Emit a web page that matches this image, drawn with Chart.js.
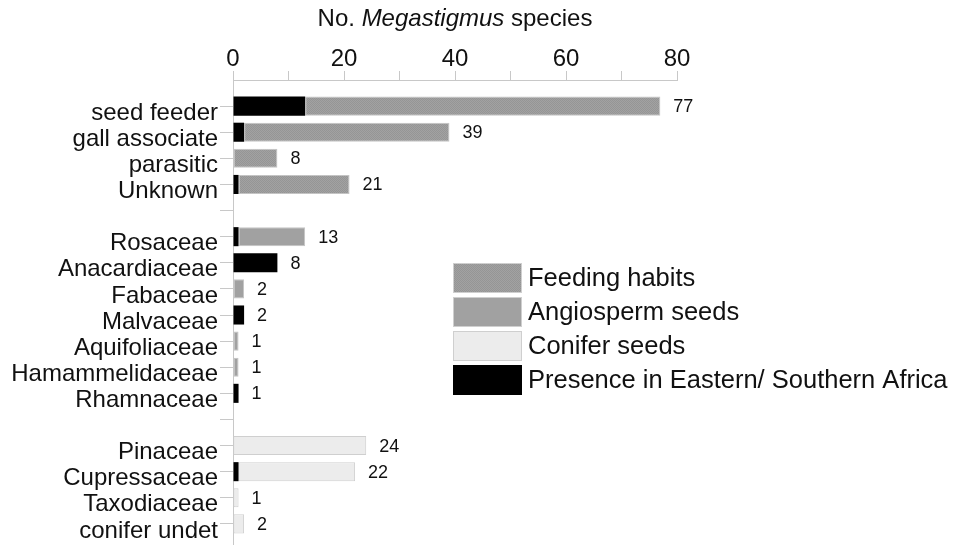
<!DOCTYPE html>
<html>
<head>
<meta charset="utf-8">
<script src="https://cdn.jsdelivr.net/npm/chart.js"></script>
<style>
  html, body { margin: 0; padding: 0; background: #fff; overflow: hidden; }
  #wrap { width: 976px; height: 550px; }
</style>
</head>
<body>
<div id="wrap"><canvas id="megChart"></canvas></div>
<script>
    const FONT = '"Liberation Sans", Arial, sans-serif';

    // rows, top to bottom ('' = spacer row between groups)
    const categories = ['seed feeder', 'gall associate', 'parasitic', 'Unknown', '',
        'Rosaceae', 'Anacardiaceae', 'Fabaceae', 'Malvaceae', 'Aquifoliaceae', 'Hamammelidaceae', 'Rhamnaceae', '',
        'Pinaceae', 'Cupressaceae', 'Taxodiaceae', 'conifer undet'];

    // species also found in Eastern / Southern Africa (black part, drawn first)
    const africa     = [13, 2, 0, 1, null, 1, 8, 0, 2, 0, 0, 1, null, 0, 1, 0, 0];
    // remaining species of each bar
    const feeding    = [64, 37, 8, 20, null, null, null, null, null, null, null, null, null, null, null, null, null];
    const angiosperm = [null, null, null, null, null, 12, 0, 2, 0, 1, 1, 0, null, null, null, null, null];
    const conifer    = [null, null, null, null, null, null, null, null, null, null, null, null, null, 24, 21, 1, 2];

    const xLabels = [0, 20, 40, 60, 80];

    // stippled grey for the feeding-habit bars
    function stipple() {
        const c = document.createElement('canvas');
        c.width = 2; c.height = 2;
        const g = c.getContext('2d');
        g.fillStyle = '#a2a2a2'; g.fillRect(0, 0, 2, 2);
        g.fillStyle = '#959595'; g.fillRect(0, 0, 1, 1); g.fillRect(1, 1, 1, 1);
        return g.createPattern(c, 'repeat');
    }
    const feedFill = stipple();

    const legendItems = [
        { text: 'Feeding habits', fill: feedFill, border: '#cfcfcf' },
        { text: 'Angiosperm seeds', fill: '#a1a1a1', border: '#cfcfcf' },
        { text: 'Conifer seeds', fill: '#ececec', border: '#cfcfcf' },
        { text: 'Presence in Eastern/ Southern Africa', fill: '#000000', border: '#000000' }
    ];

    const sideTitle = {
        id: 'sideTitle',
        afterDraw(chart) {
            const ctx = chart.ctx;
            const parts = [['No. ', 'normal'], ['Megastigmus', 'italic'], [' species', 'normal']];
            ctx.save();
            ctx.fillStyle = '#111';
            ctx.textBaseline = 'alphabetic';
            let w = 0;
            parts.forEach(p => { ctx.font = p[1] + ' 24px ' + FONT; w += ctx.measureText(p[0]).width; });
            let x = (chart.chartArea.left + chart.chartArea.right) / 2 - w / 2;
            parts.forEach(p => {
                ctx.font = p[1] + ' 24px ' + FONT;
                ctx.fillText(p[0], x, 26);
                x += ctx.measureText(p[0]).width;
            });
            ctx.restore();
        }
    };

    const totals = {
        id: 'totals',
        afterDatasetsDraw(chart) {
            const ctx = chart.ctx;
            const xs = chart.scales.x, ys = chart.scales.y;
            ctx.save();
            ctx.font = '18px ' + FONT;
            ctx.fillStyle = '#111';
            ctx.textAlign = 'left';
            ctx.textBaseline = 'middle';
            categories.forEach((c, i) => {
                if (!c) return;
                const t = [africa, feeding, angiosperm, conifer].reduce((s, a) => s + (a[i] || 0), 0);
                ctx.fillText(String(t), xs.getPixelForValue(t) + 13, ys.getPixelForValue(i + 1) + 1);
            });
            ctx.restore();
        }
    };

    const boxLegend = {
        id: 'boxLegend',
        afterDraw(chart) {
            const ctx = chart.ctx;
            ctx.save();
            ctx.font = '25.5px ' + FONT;
            ctx.textBaseline = 'middle';
            legendItems.forEach((it, k) => {
                const top = 263 + k * 34;
                ctx.fillStyle = it.fill;
                ctx.fillRect(453, top, 69, 30);
                ctx.strokeStyle = it.border;
                ctx.lineWidth = 1;
                ctx.strokeRect(453.5, top + 0.5, 68, 29);
                ctx.fillStyle = '#111';
                ctx.fillText(it.text, 528, top + 16);
            });
            ctx.restore();
        }
    };

    // blank slot above the first row and below the last one (axis runs on past the bars)
    const pad = a => [null].concat(a, [null]);
    const edge = () => (c => (c.raw ? 1 : 0));

    new Chart(document.getElementById('megChart'), {
        type: 'bar',
        data: {
            labels: [''].concat(categories, ['']),
            datasets: [
                { label: 'Presence in Eastern/ Southern Africa', data: pad(africa), backgroundColor: '#000000', borderColor: '#000000', borderWidth: 0 },
                { label: 'Feeding habits', data: pad(feeding), backgroundColor: feedFill, borderColor: '#c4c4c4', borderWidth: edge() },
                { label: 'Angiosperm seeds', data: pad(angiosperm), backgroundColor: '#a1a1a1', borderColor: '#c4c4c4', borderWidth: edge() },
                { label: 'Conifer seeds', data: pad(conifer), backgroundColor: '#ececec', borderColor: '#cfcfcf', borderWidth: edge() }
            ]
        },
        options: {
            indexAxis: 'y',
            responsive: true,
            maintainAspectRatio: false,
            animation: false,
            layout: { padding: { left: 0, right: 299, top: 0, bottom: 0 } },
            datasets: { bar: { barPercentage: 0.73, categoryPercentage: 1, borderSkipped: false } },
            scales: {
                x: {
                    position: 'top',
                    stacked: true,
                    min: 0,
                    max: 80,
                    afterFit(s) { s.height = 80; },
                    border: { color: '#c8c8c8', width: 1 },
                    grid: { drawOnChartArea: false, drawTicks: true, tickLength: 9, color: '#c8c8c8' },
                    ticks: {
                        stepSize: 10,
                        autoSkip: false,
                        maxRotation: 0,
                        padding: -3,
                        color: '#111',
                        font: { family: FONT, size: 24 },
                        callback: v => (xLabels.includes(v) ? v : '')
                    }
                },
                y: {
                    stacked: true,
                    offset: false,
                    afterFit(s) { s.width = 233; s.paddingTop = 0; s.paddingBottom = 0; },
                    border: { color: '#c8c8c8', width: 1 },
                    grid: {
                        offset: false,
                        drawOnChartArea: false,
                        tickLength: 13,
                        color: c => (c.index === 0 ? 'rgba(0,0,0,0)' : '#c8c8c8')
                    },
                    ticks: {
                        autoSkip: false,
                        padding: 2,
                        labelOffset: 7,
                        color: '#111',
                        font: { family: FONT, size: 24 }
                    }
                }
            },
            plugins: {
                legend: { display: false },
                tooltip: { enabled: false }
            }
        },
        plugins: [sideTitle, totals, boxLegend]
    });
</script>
</body>
</html>
